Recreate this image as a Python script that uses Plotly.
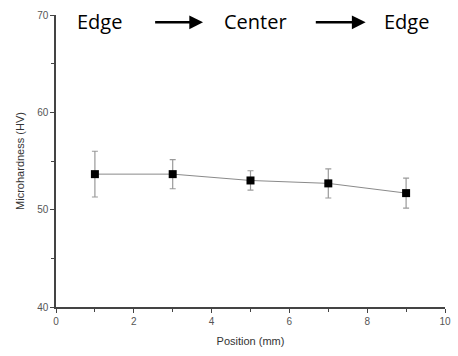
import plotly.graph_objects as go

position = [1, 3, 5, 7, 9]
hardness = [53.65, 53.65, 53.0, 52.7, 51.7]
err = [2.35, 1.5, 1.0, 1.5, 1.55]
x_ticks = [0, 2, 4, 6, 8, 10]
y_ticks = [40, 50, 60, 70]

fig = go.Figure()
fig.add_trace(go.Scatter(
    x=position, y=hardness, mode="lines+markers",
    line=dict(color="#8a8a8a", width=1),
    marker=dict(symbol="square", size=8, color="black"),
    error_y=dict(type="data", array=err, visible=True, color="#9a9a9a", thickness=1.2, width=3),
    showlegend=False,
))

txt_font = dict(family="Open Sans, Liberation Sans, sans-serif", size=20, color="black")
for xt, t in [(1.11, "Edge"), (5.14, "Center"), (9.02, "Edge")]:
    fig.add_annotation(x=xt, y=69.3, xref="x", yref="y", text=t, showarrow=False, font=txt_font)
for x0, x1 in [(2.51, 3.78), (6.64, 7.96)]:
    fig.add_annotation(x=x1, y=69.25, ax=x0, ay=69.25, xref="x", yref="y", axref="x", ayref="y",
                       text="", showarrow=True, arrowhead=2, arrowsize=1.1, arrowwidth=2.5, arrowcolor="black")

axis_common = dict(
    showgrid=False, zeroline=False, showline=True, linecolor="#444", linewidth=1.5,
    ticks="outside", ticklen=4, tickcolor="#444", tickwidth=1, ticklabeloverflow="allow",
    tickfont=dict(family="Liberation Sans, Arial, sans-serif", size=10, color="#555"),
    minor=dict(ticks="outside", ticklen=3, tickcolor="#444", tickwidth=1),
)
fig.update_xaxes(range=[0, 10], tickvals=x_ticks, minor_dtick=1, **axis_common,
                 title=dict(text="Position (mm)", font=dict(family="Liberation Sans, Arial, sans-serif", size=11, color="#333"), standoff=12))
fig.update_yaxes(range=[40, 70], tickvals=y_ticks, minor_dtick=5, **axis_common,
                 title=dict(text="Microhardness (HV)", font=dict(family="Liberation Sans, Arial, sans-serif", size=11, color="#333"), standoff=10))

fig.update_layout(
    width=458, height=356,
    margin=dict(l=56, r=7, t=15, b=49),
    plot_bgcolor="white", paper_bgcolor="white",
)
fig.write_html("out.html", config={"displayModeBar": False},
               post_script="document.body.style.margin='0';document.body.style.overflow='hidden';")
